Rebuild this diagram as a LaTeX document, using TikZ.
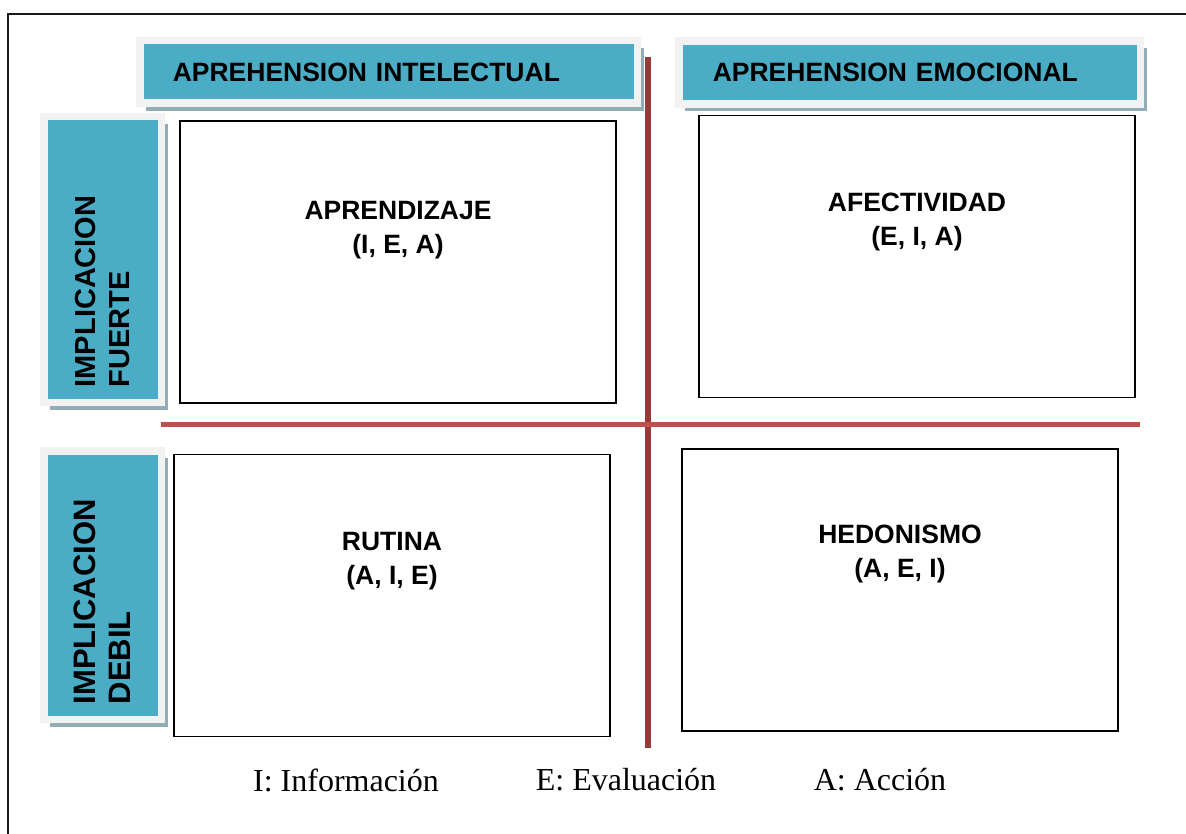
\documentclass[tikz,border=0pt]{standalone}
\usepackage{fontspec}
\setmainfont{Liberation Serif}
\newfontfamily\headfont{Liberation Sans}
\usepackage{tikz}
\usetikzlibrary{positioning, shadows}

\definecolor{cellblue}{HTML}{4BACC6}
\definecolor{framegrey}{HTML}{F2F2F2}
\definecolor{shadegrey}{HTML}{93ADB6}
\definecolor{axisdark}{HTML}{983A3A}
\definecolor{axislight}{HTML}{C0504D}

\tikzset {
    head/.style={draw=framegrey, line width=7.5pt, fill=cellblue, inner ysep=0pt,
        drop shadow={shadow xshift=6.5pt, shadow yshift=-7.5pt, opacity=1, fill=shadegrey},
        align=left, font=\headfont\bfseries\fontsize{26.5}{30}\selectfont},
    side/.style={rotate=90, minimum height=117.5pt, inner xsep=15pt},
    quad/.style={draw, line width=1.8pt, minimum width=436pt, minimum height=282pt},
    quadtext/.style={inner sep=0pt, align=center,
        font=\headfont\bfseries\fontsize{26.5}{34}\selectfont},
    axis/.style={line width=5.5pt},
    legend/.style={inner sep=0pt, font=\fontsize{32}{36}\selectfont}
}

\begin{document}
\begin{tikzpicture}[x=1pt, y=-1pt]
    \useasboundingbox (0,0) rectangle (1186,834);
    \draw[line width=2.4pt, black!90] (8,834) -- (8,14) -- (1186,14);

    % column headers
    \node[head, minimum width=497.5pt, minimum height=62.5pt, inner xsep=33pt, text width=431.5pt]
        (intel) at (388.5,72) {APREHENSION INTELECTUAL};
    \node[head, minimum width=461.5pt, minimum height=63pt, inner xsep=34pt, text width=393.5pt]
        (emoc) at (909.5,72.5) {APREHENSION EMOCIONAL};

    % row headers
    \node[head, side, minimum width=285.5pt, text width=255.5pt,
        font=\headfont\bfseries\fontsize{29}{34}\selectfont]
        (fuerte) at (102.5,259.5) {IMPLICACION\\FUERTE};
    \node[head, side, minimum width=268.5pt, text width=238.5pt,
        font=\headfont\bfseries\fontsize{31}{35}\selectfont]
        (debil) at (102.5,585) {IMPLICACION\\DEBIL};

    % quadrants
    \node[quad] (aprend) at (398,262) {};
    \node[quad] (afect) at (917,256.5) {};
    \node[quad] (rutina) at (392,595.5) {};
    \node[quad] (hedon) at (900,590) {};

    \node[quadtext, below=81pt of aprend.north] (aprendtxt) {APRENDIZAJE\\(I, E, A)};
    \node[quadtext, below=78pt of afect.north] (afecttxt) {AFECTIVIDAD\\(E, I, A)};
    \node[quadtext, below=78pt of rutina.north] (rutinatxt) {RUTINA\\(A, I, E)};
    \node[quadtext, below=77pt of hedon.north] (hedontxt) {HEDONISMO\\(A, E, I)};

    % axes
    \draw[axis, axisdark] (648,57) -- (648,748);
    \draw[axis, axislight] (161,424.5) -- (1140,424.5);

    % legend
    \node[legend] (legI) at (346,780) {I: Información};
    \node[legend] (legE) at (626,780) {E: Evaluación};
    \node[legend] (legA) at (880,780) {A: Acción};
\end{tikzpicture}
\end{document}
